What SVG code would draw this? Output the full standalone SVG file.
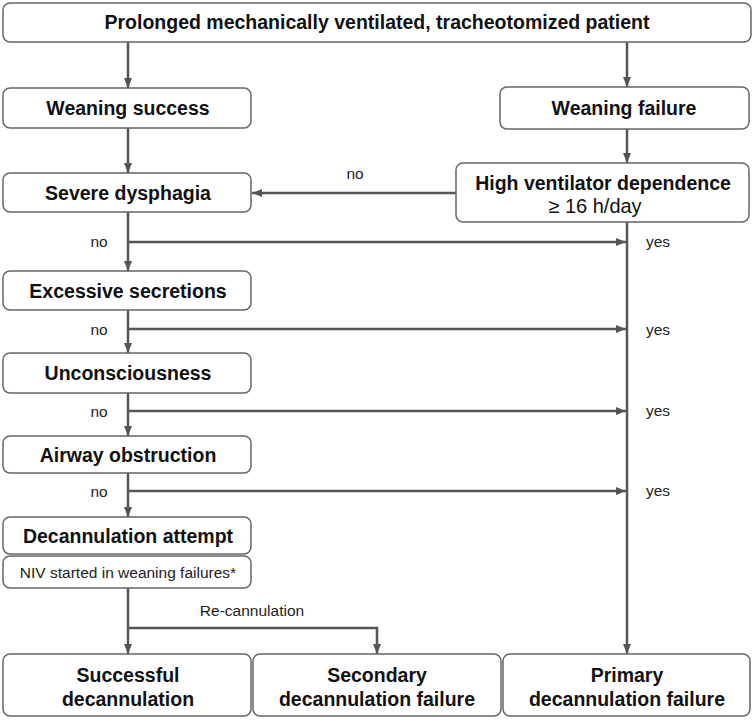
<svg xmlns="http://www.w3.org/2000/svg" width="755" height="720" viewBox="0 0 755 720">
<defs>
<marker id="ah" markerWidth="10" markerHeight="8" refX="10" refY="4" orient="auto" markerUnits="userSpaceOnUse">
<path d="M0,0 L10,4 L0,8 Z" fill="#555"/>
</marker>
<style>
.box{fill:#fff;stroke:#666;stroke-width:1.5}
.t{font-family:"Liberation Sans",Arial,sans-serif;font-weight:bold;font-size:19.5px;fill:#111;text-anchor:middle}
.s{font-family:"Liberation Sans",Arial,sans-serif;font-size:15.5px;fill:#222}
.c{stroke:#555;stroke-width:2.5;fill:none}
.ca{stroke:#555;stroke-width:2.5;fill:none;marker-end:url(#ah)}
</style>
</defs>
<rect width="755" height="720" fill="#fff"/>
<g id="connectors">
<line class="ca" x1="128" y1="42" x2="128" y2="88"/>
<line class="ca" x1="627" y1="42" x2="627" y2="87"/>
<line class="ca" x1="128" y1="128" x2="128" y2="173"/>
<line class="ca" x1="627" y1="129" x2="627" y2="163"/>
<line class="ca" x1="456" y1="193" x2="252" y2="193"/>
<line class="ca" x1="627" y1="222" x2="627" y2="654"/>
<line class="ca" x1="128" y1="212" x2="128" y2="271"/>
<line class="ca" x1="128" y1="242" x2="626" y2="242"/>
<line class="ca" x1="128" y1="310" x2="128" y2="353"/>
<line class="ca" x1="128" y1="329" x2="626" y2="329"/>
<line class="ca" x1="128" y1="393" x2="128" y2="436"/>
<line class="ca" x1="128" y1="411" x2="626" y2="411"/>
<line class="ca" x1="128" y1="473" x2="128" y2="517"/>
<line class="ca" x1="128" y1="491" x2="626" y2="491"/>
<line class="ca" x1="128" y1="588" x2="128" y2="654"/>
<polyline class="ca" points="128,628 377,628 377,654"/>
<text class="s" x="355" y="179" text-anchor="middle">no</text>
<text class="s" x="99" y="247" text-anchor="middle">no</text>
<text class="s" x="99" y="335" text-anchor="middle">no</text>
<text class="s" x="99" y="417" text-anchor="middle">no</text>
<text class="s" x="99" y="497" text-anchor="middle">no</text>
<text class="s" x="658" y="247" text-anchor="middle">yes</text>
<text class="s" x="658" y="335" text-anchor="middle">yes</text>
<text class="s" x="658" y="416" text-anchor="middle">yes</text>
<text class="s" x="658" y="496" text-anchor="middle">yes</text>
<text class="s" x="252" y="616" text-anchor="middle">Re-cannulation</text>
</g>
<g id="start">
<rect class="box" x="3" y="3" width="748" height="39" rx="7"/>
<text class="t" x="377" y="29">Prolonged mechanically ventilated, tracheotomized patient</text>
</g>
<g id="weaning-success">
<rect class="box" x="3" y="88" width="248" height="40" rx="7"/>
<text class="t" x="128" y="115">Weaning success</text>
</g>
<g id="weaning-failure">
<rect class="box" x="500" y="87" width="249" height="42" rx="7"/>
<text class="t" x="624" y="115">Weaning failure</text>
</g>
<g id="severe-dysphagia">
<rect class="box" x="3" y="173" width="248" height="39" rx="7"/>
<text class="t" x="128" y="200">Severe dysphagia</text>
</g>
<g id="high-ventilator">
<rect class="box" x="456" y="163" width="293" height="59" rx="7"/>
<text class="t" x="603" y="190">High ventilator dependence</text>
<text class="t" x="595" y="213" style="font-weight:normal;font-size:20px">≥ 16 h/day</text>
</g>
<g id="excessive-secretions">
<rect class="box" x="3" y="271" width="248" height="39" rx="7"/>
<text class="t" x="128" y="298">Excessive secretions</text>
</g>
<g id="unconsciousness">
<rect class="box" x="3" y="353" width="248" height="40" rx="7"/>
<text class="t" x="128" y="380">Unconsciousness</text>
</g>
<g id="airway-obstruction">
<rect class="box" x="3" y="436" width="248" height="37" rx="7"/>
<text class="t" x="128" y="462">Airway obstruction</text>
</g>
<g id="decannulation-attempt">
<rect class="box" x="3" y="517" width="248" height="37" rx="7"/>
<text class="t" x="128" y="543">Decannulation attempt</text>
<rect class="box" x="3" y="556" width="248" height="32" rx="7"/>
<text class="s" x="128" y="578" text-anchor="middle">NIV started in weaning failures*</text>
</g>
<g id="successful">
<rect class="box" x="3" y="654" width="248" height="62" rx="7"/>
<text class="t" x="128" y="682">Successful</text>
<text class="t" x="128" y="706">decannulation</text>
</g>
<g id="secondary">
<rect class="box" x="253" y="654" width="248" height="62" rx="7"/>
<text class="t" x="377" y="682">Secondary</text>
<text class="t" x="377" y="706">decannulation failure</text>
</g>
<g id="primary">
<rect class="box" x="503" y="654" width="247" height="62" rx="7"/>
<text class="t" x="627" y="682">Primary</text>
<text class="t" x="627" y="706">decannulation failure</text>
</g>
</svg>
